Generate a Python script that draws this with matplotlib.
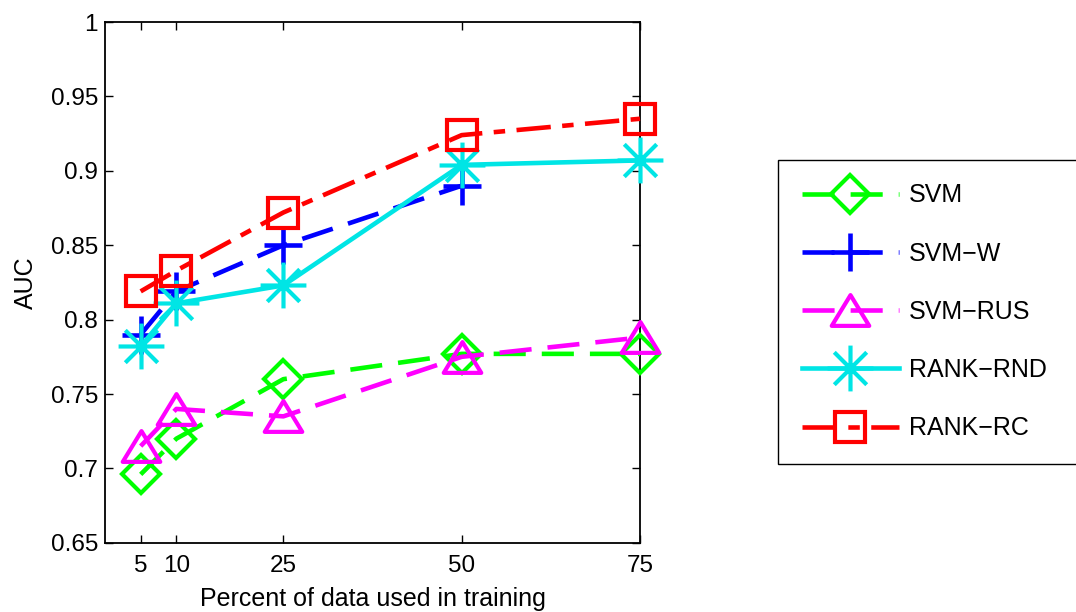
import matplotlib
matplotlib.use("Agg")
import matplotlib.pyplot as plt
from matplotlib.path import Path
import numpy as np

x = [5, 10, 25, 50, 75]
x_w = [5, 10, 25, 50]
svm = [0.696, 0.720, 0.760, 0.777, 0.777]
svm_w = [0.790, 0.819, 0.850, 0.890]
svm_rus = [0.715, 0.740, 0.735, 0.775, 0.788]
rank_rnd = [0.782, 0.811, 0.823, 0.904, 0.907]
rank_rc = [0.819, 0.833, 0.872, 0.924, 0.935]
xticks = [5, 10, 25, 50, 75]
yticks = [0.65, 0.7, 0.75, 0.8, 0.85, 0.9, 0.95, 1.0]
yticklabels = ["0.65", "0.7", "0.75", "0.8", "0.85", "0.9", "0.95", "1"]

plt.rcParams['font.family'] = ['Liberation Sans', 'DejaVu Sans']
fig = plt.figure(figsize=(10.76, 6.12), dpi=100)
ax = fig.add_axes([0.0976, 0.113, 0.4972, 0.851])

# MATLAB-like asterisk (plus + cross) and wide triangle markers
d = np.sqrt(0.5)
ast = Path([(-1, 0), (1, 0), (0, -1), (0, 1), (-d, -d), (d, d), (-d, d), (d, -d)],
           [Path.MOVETO, Path.LINETO] * 4)
tri = Path([(0, 0.82), (-1, -0.82), (1, -0.82), (0, 0.82)],
           [Path.MOVETO, Path.LINETO, Path.LINETO, Path.CLOSEPOLY])

lw = 3.3
mew = 3.0
dash = (7, 3.5)
common = dict(lw=lw, mew=mew, mfc='none', clip_on=False)
ax.plot(x, svm, color='#00FF00', marker='D', ms=19, label='SVM', dashes=dash, **common)
ax.plot(x_w, svm_w, color='#0000FF', marker='+', ms=27, label='SVM\u2212W', dashes=dash,
        lw=lw, mew=mew + 0.3, clip_on=False)
ax.plot(x, svm_rus, color='#FF00FF', marker=tri, ms=27, label='SVM\u2212RUS', dashes=dash, **common)
ax.plot(x, rank_rnd, '-', color='#00E5E5', marker=ast, ms=33, label='RANK\u2212RND', **common)
ax.plot(x, rank_rc, color='#FF0000', marker='s', ms=21, label='RANK\u2212RC',
        dashes=(7.5, 2.5, 2.5, 2.5), **common)

ax.set_xlim(0, 75)
ax.set_ylim(0.65, 1.0)
ax.set_xticks(xticks)
ax.set_yticks(yticks)
ax.set_yticklabels(yticklabels)
ax.tick_params(direction='in', top=True, right=True, labelsize=17.5, length=6, width=1)
ax.tick_params(axis='x', pad=9)
ax.tick_params(axis='y', pad=5)
for s in ax.spines.values():
    s.set_linewidth(1.3)
    s.set_zorder(0.5)
ax.set_xlabel('Percent of data used in training', fontsize=18, labelpad=7)
ax.set_ylabel('AUC', fontsize=18, labelpad=9)

leg = fig.legend(loc='upper left', bbox_to_anchor=(0.723, 0.2, 0.29, 0.539), mode='expand',
                 fontsize=18, handlelength=3.9, labelspacing=1.37, borderpad=0.95,
                 handletextpad=0.4, fancybox=False, edgecolor='black', framealpha=1,
                 borderaxespad=0)
leg.get_frame().set_linewidth(1.0)

fig.savefig('out.png', dpi=100)
